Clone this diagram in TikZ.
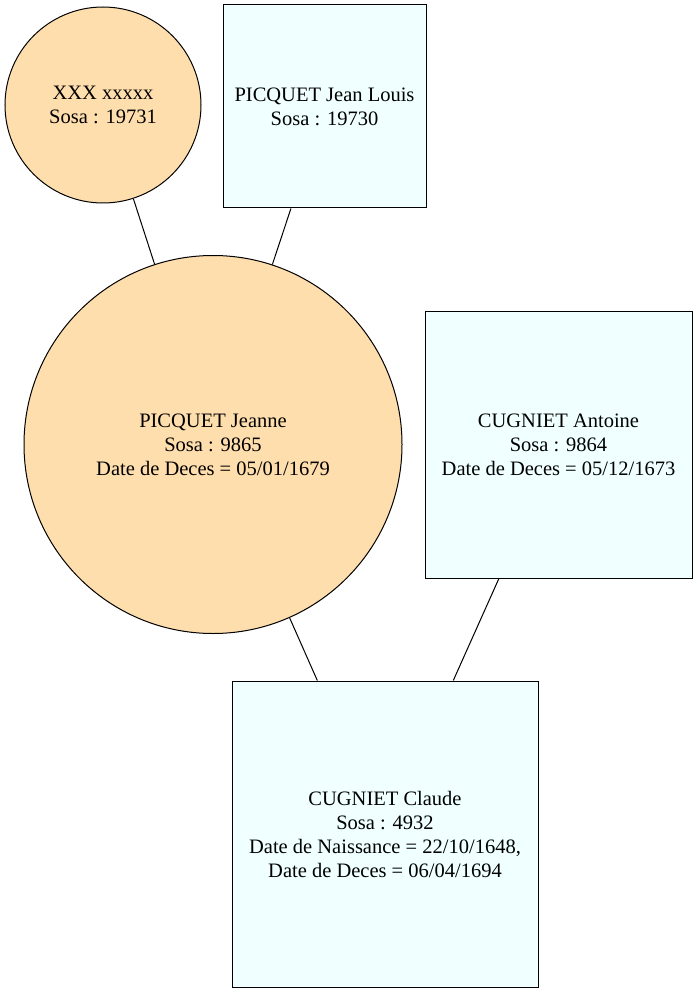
\documentclass[tikz,border=0pt]{standalone}
\usepackage{fontspec}
\setmainfont{Liberation Serif}
\definecolor{navw}{HTML}{FFDEAD}
\definecolor{azr}{HTML}{F0FFFF}
\begin{document}
\begin{tikzpicture}[x=1pt,y=-1pt,
  every node/.style={align=center,inner sep=0pt,font=\fontsize{20.5}{24}\selectfont,line width=1pt},
  fem/.style={circle,draw=black,fill=navw},
  masc/.style={rectangle,draw=black,fill=azr},
  link/.style={draw=black,line width=1pt}]
\useasboundingbox (0,0) rectangle (697,992);
\node[fem,minimum size=196pt] (a) at (103,105) {XXX xxxxx\\Sosa : 19731};
\node[masc,minimum width=203pt,minimum height=203pt] (b) at (324.5,106.5) {PICQUET Jean Louis\\Sosa : 19730};
\node[fem,minimum size=378pt] (c) at (213,444.5) {PICQUET Jeanne\\Sosa : 9865\\Date de Deces = 05/01/1679};
\node[masc,minimum width=267pt,minimum height=267pt] (d) at (558.5,444.5) {CUGNIET Antoine\\Sosa : 9864\\Date de Deces = 05/12/1673};
\node[masc,minimum width=306pt,minimum height=306pt] (e) at (385,834) {CUGNIET Claude\\Sosa : 4932\\Date de Naissance = 22/10/1648,\\Date de Deces = 06/04/1694};
\draw[link] (a) -- (c);
\draw[link] (b) -- (c);
\draw[link] (c) -- (e);
\draw[link] (d) -- (e);
\end{tikzpicture}
\end{document}
